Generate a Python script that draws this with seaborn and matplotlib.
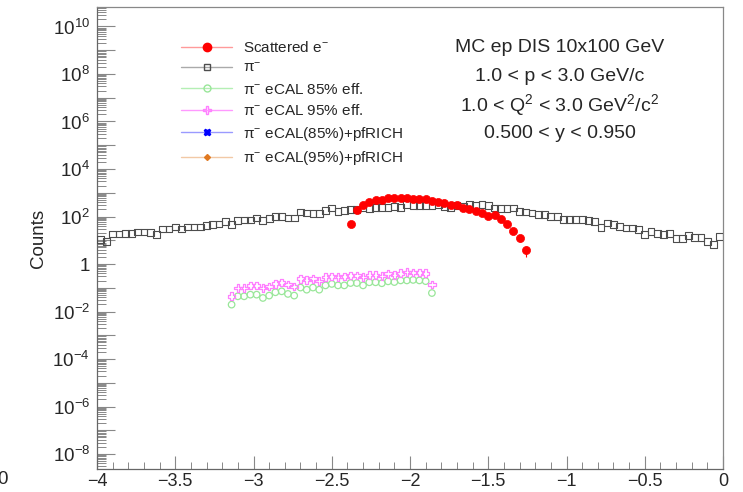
import numpy as np
import pandas as pd
import matplotlib
matplotlib.use("Agg")
import matplotlib.pyplot as plt
import seaborn as sns
from matplotlib.lines import Line2D
from matplotlib.ticker import LogLocator, MultipleLocator, FuncFormatter, NullFormatter

# ---------------- data ----------------
# histogram definition: 100 bins from -4 to 0
x_lo, x_hi, n_bins = -4.0, 0.0, 100
bin_width = (x_hi - x_lo) / n_bins
bin_centers = np.round(x_lo + bin_width * (np.arange(n_bins) + 0.5), 3)

pim_counts = [10.5, 8.9, 18.2, 18.2, 19.5, 20, 22.4, 22.4, 21.4, 17,
              29.5, 29.5, 36.3, 29.5, 36.3, 36.3, 36.3, 42.7, 44.7, 47.9,
              61.7, 44.7, 66, 70.8, 70.8, 87, 66, 81.3, 100, 100,
              87, 87, 155, 141, 132, 129, 174, 229, 166, 174,
              204, 195, 229, 214, 240, 240, 240, 269, 240, 316,
              295, 295, 295, 295, 331, 269, 240, 295, 269, 316,
              295, 331, 295, 229, 214, 214, 229, 162, 155, 141,
              126, 126, 100, 100, 77.6, 77.6, 77.6, 77.6, 66, 63,
              34.7, 53.7, 45.7, 38, 33.1, 33.1, 28.2, 17, 23.4, 20,
              17, 20, 11.7, 11.7, 15.8, 12.6, 12.6, 8.9, 6.5, 14.5]

ele_first_bin = 40   # x = -2.38
ele_counts = [48, 195, 316, 389, 513, 490, 603, 631, 631, 631,
              537, 537, 537, 468, 427, 363, 316, 295, 229, 209,
              178, 141, 102, 115, 79, 48, 23.4, 12.3, 4.0]

ecal_first_bin = 21  # x = -3.14
ecal85_counts = [0.0195, 0.0437, 0.0437, 0.0513, 0.0513, 0.0372, 0.0468, 0.0646, 0.0708, 0.055,
                 0.0468, 0.102, 0.083, 0.102, 0.083, 0.126, 0.145, 0.126, 0.126, 0.158,
                 0.158, 0.126, 0.17, 0.17, 0.155, 0.186, 0.174, 0.204, 0.204, 0.214,
                 0.204, 0.19, 0.06]
ecal95_counts = [0.0437, 0.098, 0.098, 0.123, 0.123, 0.098, 0.115, 0.148, 0.166, 0.135,
                 0.115, 0.24, 0.214, 0.24, 0.195, 0.282, 0.295, 0.282, 0.295, 0.331,
                 0.331, 0.282, 0.347, 0.347, 0.316, 0.389, 0.347, 0.407, 0.457, 0.437,
                 0.437, 0.407, 0.135]
ecal85_rich_counts = []
ecal95_rich_counts = []

legend_labels = ["Scattered e$^{\\mathregular{-}}$",
                 "\u03c0$^{\\mathregular{-}}$",
                 "\u03c0$^{\\mathregular{-}}$ eCAL 85% eff.",
                 "\u03c0$^{\\mathregular{-}}$ eCAL 95% eff.",
                 "\u03c0$^{\\mathregular{-}}$ eCAL(85%)+pfRICH",
                 "\u03c0$^{\\mathregular{-}}$ eCAL(95%)+pfRICH"]

info_lines = ["MC ep DIS 10x100 GeV",
              "1.0 < p < 3.0 GeV/c",
              "1.0 < Q$^{\\mathregular{2}}$ < 3.0 GeV$^{\\mathregular{2}}$/c$^{\\mathregular{2}}$",
              "0.500 < y < 0.950"]

# ---------------- frames ----------------
df_pim = pd.DataFrame({"x": bin_centers, "y": pim_counts})
df_ele = pd.DataFrame({"x": bin_centers[ele_first_bin:ele_first_bin + len(ele_counts)], "y": ele_counts})
df_85 = pd.DataFrame({"x": bin_centers[ecal_first_bin:ecal_first_bin + len(ecal85_counts)], "y": ecal85_counts})
df_95 = pd.DataFrame({"x": bin_centers[ecal_first_bin:ecal_first_bin + len(ecal95_counts)], "y": ecal95_counts})

# ---------------- style ----------------
sns.set_style("white")
plt.rcParams["font.family"] = ["Liberation Sans", "DejaVu Sans"]
plt.rcParams["mathtext.fontset"] = "custom"
plt.rcParams["mathtext.rm"] = "Liberation Sans"
plt.rcParams["mathtext.it"] = "Liberation Sans:italic"
plt.rcParams["axes.unicode_minus"] = True

fig = plt.figure(figsize=(7.43, 4.92), dpi=100)
ax = fig.add_axes([97 / 743, 1 - 469 / 492, (723 - 97) / 743, (469 - 7) / 492])

c_red = "#ff0000"
c_gray = "#4d4d4d"
c_green = "#99e699"
c_mag = "#ff80ff"
c_blue = "#0000ff"
c_orange = "#e07820"

# red error bars (statistical)
ax.errorbar(df_ele["x"], df_ele["y"], yerr=np.sqrt(df_ele["y"]), fmt="none",
            ecolor=c_red, elinewidth=0.8, zorder=2)
sns.scatterplot(data=df_pim, x="x", y="y", ax=ax, marker="s", s=24,
                facecolor="none", edgecolor=c_gray, linewidth=0.8, zorder=3)
sns.scatterplot(data=df_ele, x="x", y="y", ax=ax, marker="o", s=34,
                color=c_red, edgecolor=c_red, linewidth=0.5, zorder=4)
sns.scatterplot(data=df_85, x="x", y="y", ax=ax, marker="o", s=22,
                facecolor="none", edgecolor=c_green, linewidth=0.9, zorder=3)
sns.scatterplot(data=df_95, x="x", y="y", ax=ax, marker="P", s=30,
                facecolor="none", edgecolor=c_mag, linewidth=0.9, zorder=3)

ax.set_yscale("log")
ax.set_xlim(x_lo, x_hi)
ax.set_ylim(10 ** -8.63, 10 ** 10.82)
ax.set_xlabel("")
ax.set_ylabel("Counts", fontsize=13.5, labelpad=0)
ax.yaxis.set_label_coords(-0.08, 0.5)

# ticks
ax.xaxis.set_major_locator(MultipleLocator(0.5))
ax.xaxis.set_minor_locator(MultipleLocator(0.1))
ax.xaxis.set_major_formatter(FuncFormatter(lambda v, p: ("%g" % v).replace("-", "\u2212")))
ax.yaxis.set_major_locator(LogLocator(base=10, numticks=40))
ax.yaxis.set_minor_locator(LogLocator(base=10, subs=np.arange(2, 10), numticks=40))
ax.yaxis.set_minor_formatter(NullFormatter())


def yfmt(v, p):
    e = int(round(np.log10(v)))
    if e % 2:
        return ""
    if e == 0:
        return "1"
    return "$\\mathregular{10^{%d}}$" % e


ax.yaxis.set_major_formatter(FuncFormatter(yfmt))
tick_col = "#888888"
ax.tick_params(axis="y", which="both", left=True, right=False)
ax.tick_params(axis="x", which="both", bottom=True, top=False)
ax.tick_params(axis="y", which="major", direction="in", length=13, width=0.8,
               color=tick_col, labelsize=13.5, pad=5)
ax.tick_params(axis="y", which="minor", direction="in", length=6.5, width=0.7,
               color=tick_col)
ax.tick_params(axis="x", which="major", direction="in", length=9.5, width=0.8,
               color=tick_col, labelsize=13, pad=3)
ax.tick_params(axis="x", which="minor", direction="in", length=5, width=0.7,
               color=tick_col)
for sp in ax.spines.values():
    sp.set_color("#888888")
    sp.set_linewidth(0.9)
ax.spines["left"].set_color("#666666")
ax.spines["bottom"].set_color("#666666")

# legend
handles = [
    Line2D([], [], color="#ff9a9a", lw=1, marker="o", ms=6, mfc=c_red, mec=c_red),
    Line2D([], [], color="#aaaaaa", lw=1, marker="s", ms=5, mfc="none", mec=c_gray),
    Line2D([], [], color="#b4efb4", lw=1, marker="o", ms=5, mfc="none", mec=c_green),
    Line2D([], [], color="#ff99ff", lw=1, marker="P", ms=5.5, mfc="none", mec=c_mag),
    Line2D([], [], color="#9a9aff", lw=1, marker="X", ms=5, mfc=c_blue, mec=c_blue),
    Line2D([], [], color="#f2c9a6", lw=1, marker="D", ms=3, mfc=c_orange, mec=c_orange),
]
leg = ax.legend(handles, legend_labels, loc="upper left", bbox_to_anchor=(0.125, 0.942),
                frameon=False, fontsize=11, handlelength=3.3, handletextpad=0.75,
                labelspacing=0.42, borderaxespad=0)

# info text
info_y = [48, 76, 105, 134]
for txt, py in zip(info_lines, info_y):
    fig.text(560 / 743, 1 - py / 492, txt, ha="center", va="center", fontsize=14)

# clipped label remnant at lower-left edge
fig.text(-0.004, 1 - 480 / 492, "0", ha="left", va="center", fontsize=13.5)

fig.savefig("out.png", dpi=100)
